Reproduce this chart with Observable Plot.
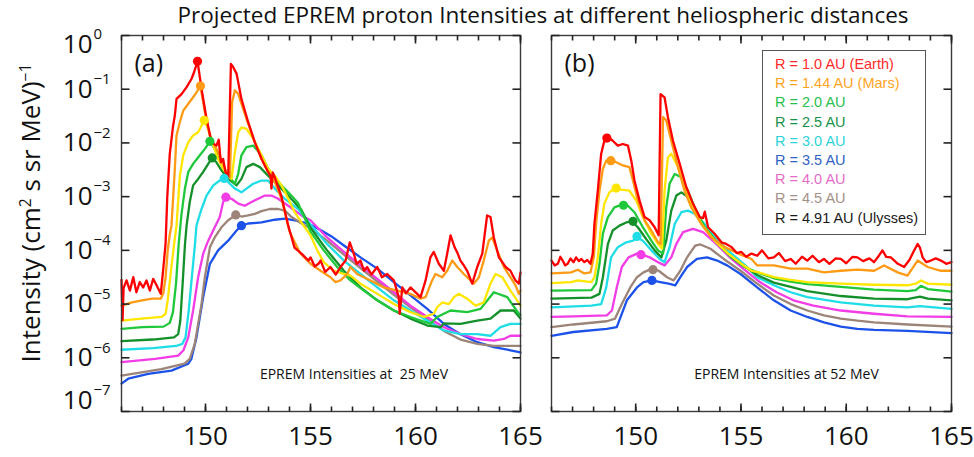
<!DOCTYPE html>
<html><head><meta charset="utf-8">
<script src="https://cdn.jsdelivr.net/npm/d3@7"></script>
<script src="https://cdn.jsdelivr.net/npm/@observablehq/plot@0.6"></script>
<style>
body{margin:0;background:#fff;}
#wrap{position:relative;width:974px;height:457px;overflow:hidden;font-family:"Open Sans",sans-serif;color:#111;}
#title{position:absolute;left:143px;width:800px;top:1px;height:28px;text-align:center;font-size:22.5px;line-height:28px;white-space:nowrap;}
#ylabel{position:absolute;left:30px;top:213px;transform:translate(-50%,-50%) rotate(-90deg);font-size:26px;white-space:nowrap;}
#ylabel sup{font-size:0.6em;vertical-align:0.6em;line-height:0;}
#pa,#pb{position:absolute;top:0;}
#pa{left:0;} #pb{left:530px;}
#legend{position:absolute;left:762px;top:50px;width:164px;height:185px;box-sizing:border-box;border:1px solid #555;background:#fff;padding:4px 0 0 12px;font-family:"Liberation Sans",Arial,sans-serif;font-size:14.5px;line-height:19.2px;white-space:nowrap;}
</style></head>
<body><div id="wrap">
<div id="title"></div>
<div id="ylabel">Intensity (cm<sup>2</sup> s sr MeV)<sup>−1</sup></div>
<div id="pa"></div><div id="pb"></div>
<div id="legend"></div>
</div>
<script>
// ---------- data (times in days, values as log10 intensity) ----------
const titleText = "Projected EPREM proton Intensities at different heliospheric distances";
const radiusLabels = ["R = 1.0 AU (Earth)","R = 1.44 AU (Mars)","R = 2.0 AU","R = 2.5 AU","R = 3.0 AU","R = 3.5 AU","R = 4.0 AU","R = 4.5 AU","R = 4.91 AU (Ulysses)"];
const lineColors = ["#ff0000","#ff9a14","#ffe600","#1fc83a","#14902a","#1fdde6","#f23ce6","#9c8478","#1c52ea"];
const legendTextColors = ["#ff2a2a","#ffa41e","#27c04e","#17924a","#2ed3da","#2f62c2","#e56cc8","#a3918a","#1a1a1a"];
const xTicksMinor = [146,147,148,149,150,151,152,153,154,155,156,157,158,159,160,161,162,163,164,165];
const xTicksMajor = [150,155,160,165];
const yDecades = [1,1e-1,1e-2,1e-3,1e-4,1e-5,1e-6,1e-7];
const panelLetters = ["(a)","(b)"];
const panelNotes = ["EPREM Intensities at  25 MeV","EPREM Intensities at 52 MeV"];

// Panel (a): 25 MeV
const A_R1_0 = [[146.0,-4.55],[146.05,-5.3],[146.1,-4.7],[146.24,-4.56],[146.40,-4.75],[146.56,-4.50],[146.71,-4.78],[146.87,-4.59],[147.03,-4.69],[147.19,-4.56],[147.35,-4.75],[147.51,-4.53],[147.67,-4.65],[147.87,-4.81],[147.99,-4.34],[148.10,-3.87],[148.18,-3.0],[148.30,-2.2],[148.45,-1.7],[148.54,-1.49],[148.62,-1.18],[148.86,-1.09],[149.10,-0.96],[149.33,-0.81],[149.46,-0.68],[149.62,-0.48],[149.81,-0.99],[150.05,-1.55],[150.29,-1.99],[150.52,-2.05],[150.63,-1.94],[150.73,-2.36],[150.84,-2.30],[150.95,-2.54],[151.08,-2.64],[151.21,-0.53],[151.32,-0.59],[151.48,-0.71],[151.71,-1.18],[152.03,-1.61],[152.35,-1.99],[152.67,-2.30],[152.98,-2.54],[153.10,-2.62],[153.14,-2.85],[153.20,-2.55],[153.30,-2.64],[153.62,-3.0],[153.94,-3.54],[154.24,-3.95],[154.57,-4.06],[154.90,-4.19],[155.0,-4.13],[155.2,-4.30],[155.38,-4.25],[155.48,-4.19],[155.7,-4.40],[155.95,-4.31],[156.2,-4.45],[156.43,-4.31],[156.67,-4.19],[156.87,-3.85],[157.06,-4.06],[157.2,-4.25],[157.38,-4.19],[157.55,-4.38],[157.70,-4.31],[157.9,-4.45],[158.18,-4.31],[158.4,-4.5],[158.65,-4.44],[158.97,-4.56],[159.20,-4.87],[159.25,-5.18],[159.37,-4.69],[159.55,-4.80],[159.76,-4.69],[160.08,-4.81],[160.24,-4.87],[160.48,-4.56],[160.71,-4.13],[160.87,-4.03],[161.11,-4.25],[161.35,-4.38],[161.51,-4.06],[161.67,-3.72],[161.86,-3.94],[162.0,-4.05],[162.14,-4.19],[162.3,-4.28],[162.46,-4.38],[162.70,-4.62],[162.94,-4.31],[163.18,-4.06],[163.41,-3.35],[163.57,-3.38],[163.73,-3.76],[163.97,-4.13],[164.1,-4.2],[164.29,-4.31],[164.52,-4.38],[164.76,-4.56],[164.92,-4.62],[165.0,-4.41]];
const A_R1_44 = [[146.0,-5.03],[146.5,-4.97],[146.98,-4.93],[147.46,-4.90],[147.87,-4.90],[147.99,-4.80],[148.1,-4.5],[148.2,-4.0],[148.3,-3.7],[148.38,-3.54],[148.54,-2.48],[148.62,-1.86],[148.78,-1.61],[148.94,-1.40],[149.18,-1.27],[149.41,-1.15],[149.57,-1.06],[149.76,-0.94],[149.97,-1.43],[150.2,-1.86],[150.52,-2.11],[150.84,-2.39],[151.05,-2.61],[151.16,-2.64],[151.27,-1.24],[151.40,-1.02],[151.56,-1.09],[151.79,-1.36],[152.03,-1.64],[152.35,-1.99],[152.67,-2.30],[152.98,-2.54],[153.30,-2.73],[153.62,-3.04],[154.0,-3.65],[154.5,-4.05],[155.0,-4.25],[155.48,-4.38],[155.95,-4.50],[156.19,-4.59],[156.43,-4.56],[156.75,-4.44],[156.90,-4.31],[157.22,-4.44],[157.86,-4.56],[158.49,-4.69],[159.13,-4.75],[159.76,-4.81],[160.24,-4.90],[160.48,-4.87],[160.79,-4.56],[160.95,-4.44],[161.27,-4.50],[161.51,-4.38],[161.75,-4.19],[161.99,-4.31],[162.30,-4.44],[162.62,-4.56],[162.78,-4.62],[163.02,-4.50],[163.25,-4.19],[163.49,-3.82],[163.65,-3.76],[163.89,-4.0],[164.21,-4.31],[164.52,-4.50],[164.76,-4.65],[164.92,-4.81],[165.0,-4.75]];
const A_R2_0 = [[146.0,-5.31],[146.95,-5.27],[147.9,-5.24],[148.1,-5.18],[148.2,-4.93],[148.35,-4.4],[148.5,-3.9],[148.62,-3.54],[148.78,-2.61],[148.94,-2.23],[149.18,-1.99],[149.41,-1.86],[149.65,-1.80],[149.81,-1.68],[149.94,-1.58],[150.13,-1.74],[150.37,-2.05],[150.60,-2.30],[150.84,-2.48],[151.08,-2.61],[151.24,-2.67],[151.40,-2.17],[151.56,-1.80],[151.71,-1.71],[151.95,-1.74],[152.27,-1.92],[152.67,-2.23],[152.98,-2.48],[153.30,-2.61],[153.62,-2.79],[153.94,-3.04],[154.25,-3.29],[154.6,-3.5],[155.0,-3.72],[155.32,-4.0],[155.63,-4.22],[156.11,-4.38],[156.59,-4.44],[156.90,-4.47],[157.38,-4.62],[158.18,-4.81],[158.97,-5.0],[159.76,-5.15],[160.40,-5.24],[160.87,-5.18],[161.03,-5.06],[161.27,-4.97],[161.59,-5.0],[161.83,-4.87],[162.06,-4.81],[162.46,-4.90],[162.86,-5.03],[163.25,-4.97],[163.57,-4.62],[163.81,-4.44],[164.13,-4.5],[164.52,-4.75],[164.84,-4.93],[165.0,-5.03]];
const A_R2_5 = [[146.0,-5.46],[147.0,-5.43],[148.0,-5.42],[148.3,-5.35],[148.45,-5.15],[148.6,-4.6],[148.72,-3.9],[148.85,-3.35],[149.02,-2.85],[149.18,-2.54],[149.41,-2.39],[149.73,-2.23],[149.97,-2.11],[150.21,-1.97],[150.44,-2.11],[150.76,-2.36],[151.08,-2.61],[151.40,-2.76],[151.56,-2.57],[151.71,-2.23],[151.95,-2.08],[152.27,-2.05],[152.67,-2.23],[152.98,-2.48],[153.46,-2.73],[153.94,-2.92],[154.41,-3.12],[155.0,-3.65],[155.63,-4.0],[156.27,-4.31],[156.90,-4.56],[157.54,-4.75],[158.18,-4.93],[158.97,-5.12],[159.76,-5.24],[160.71,-5.37],[161.03,-5.24],[161.67,-5.12],[162.46,-5.15],[163.1,-5.09],[163.73,-4.78],[164.37,-4.87],[164.92,-5.18],[165.0,-5.2]];
const A_R3_0 = [[146.0,-5.69],[147.5,-5.66],[148.5,-5.62],[148.7,-5.56],[148.8,-5.31],[148.93,-4.50],[149.02,-3.9],[149.1,-3.54],[149.25,-3.10],[149.41,-2.79],[149.65,-2.67],[149.89,-2.54],[150.13,-2.39],[150.32,-2.28],[150.52,-2.36],[150.76,-2.51],[151.08,-2.67],[151.48,-2.79],[151.71,-2.67],[151.95,-2.45],[152.27,-2.39],[152.59,-2.45],[152.98,-2.61],[153.46,-2.79],[153.94,-2.98],[154.57,-3.25],[155.0,-3.58],[155.79,-4.0],[156.59,-4.38],[157.38,-4.69],[158.18,-4.93],[158.97,-5.12],[159.76,-5.27],[160.56,-5.40],[161.19,-5.43],[161.35,-5.36],[162.14,-5.37],[162.94,-5.31],[163.57,-5.27],[164.05,-5.12],[164.68,-5.12],[165.0,-5.27]];
const A_R3_5 = [[146.0,-5.85],[147.5,-5.82],[148.6,-5.78],[148.9,-5.74],[149.05,-5.62],[149.2,-5.12],[149.35,-4.50],[149.5,-3.88],[149.57,-3.54],[149.81,-3.23],[150.05,-2.98],[150.37,-2.79],[150.68,-2.70],[150.89,-2.66],[151.16,-2.76],[151.40,-2.85],[151.71,-2.92],[151.95,-2.85],[152.27,-2.76],[152.67,-2.70],[152.98,-2.70],[153.30,-2.85],[153.78,-3.04],[154.41,-3.23],[155.0,-3.52],[155.79,-3.88],[156.59,-4.19],[157.38,-4.44],[158.18,-4.69],[158.97,-4.93],[159.76,-5.12],[160.56,-5.31],[161.35,-5.49],[162.14,-5.56],[162.94,-5.56],[163.57,-5.59],[164.05,-5.43],[164.52,-5.37],[165.0,-5.37]];
const A_R4_0 = [[146.0,-6.08],[147.6,-6.02],[148.7,-5.96],[148.95,-5.86],[149.18,-5.62],[149.41,-5.12],[149.65,-4.50],[149.89,-4.06],[150.13,-3.82],[150.44,-3.57],[150.68,-3.38],[150.84,-3.10],[150.97,-3.01],[151.24,-3.04],[151.56,-3.13],[151.87,-3.17],[152.19,-3.10],[152.51,-3.04],[152.83,-2.98],[153.14,-2.98],[153.46,-3.04],[153.94,-3.17],[154.57,-3.35],[155.0,-3.44],[155.79,-3.76],[156.59,-4.03],[157.38,-4.28],[158.18,-4.53],[158.97,-4.78],[159.76,-5.03],[160.56,-5.24],[161.35,-5.43],[162.14,-5.56],[162.94,-5.65],[163.73,-5.68],[164.21,-5.65],[164.52,-5.59],[165.0,-5.59]];
const A_R4_5 = [[146.0,-6.33],[146.95,-6.27],[147.9,-6.21],[149.0,-6.11],[149.25,-6.02],[149.49,-5.74],[149.81,-5.0],[149.97,-4.50],[150.21,-3.94],[150.44,-3.76],[150.76,-3.57],[151.08,-3.44],[151.44,-3.34],[151.71,-3.37],[152.03,-3.35],[152.35,-3.32],[152.67,-3.27],[153.06,-3.23],[153.46,-3.23],[153.78,-3.26],[154.10,-3.38],[154.57,-3.50],[155.05,-3.60],[155.79,-3.82],[156.59,-4.08],[157.38,-4.33],[158.18,-4.58],[158.97,-4.83],[159.76,-5.06],[160.56,-5.28],[161.35,-5.50],[162.14,-5.66],[162.94,-5.74],[163.73,-5.78],[164.52,-5.78],[165.0,-5.78]];
const A_R4_91 = [[146.0,-6.48],[146.32,-6.39],[147.27,-6.30],[148.38,-6.24],[149.18,-6.11],[149.33,-6.02],[149.57,-5.62],[149.89,-4.87],[150.21,-4.25],[150.60,-4.0],[151.08,-3.82],[151.48,-3.63],[151.71,-3.54],[152.03,-3.50],[152.67,-3.48],[153.30,-3.43],[153.78,-3.41],[154.25,-3.44],[154.89,-3.50],[155.52,-3.63],[156.0,-3.74],[156.59,-3.91],[157.38,-4.13],[158.18,-4.34],[158.97,-4.59],[159.76,-4.84],[160.56,-5.09],[161.35,-5.37],[162.14,-5.56],[162.94,-5.71],[163.73,-5.80],[164.52,-5.86],[165.0,-5.90]];
const A_peakTimes = [149.62,149.76,149.94,150.21,150.32,150.89,150.97,151.44,151.71];
const A_peakValues = [-0.48,-0.94,-1.58,-1.97,-2.28,-2.66,-3.01,-3.34,-3.54];

// Panel (b): 52 MeV
const B_R1_0 = [[146.0,-4.19],[146.15,-4.28],[146.30,-4.25],[146.42,-4.12],[146.53,-4.19],[146.65,-4.28],[146.77,-4.25],[146.9,-4.15],[147.05,-4.22],[147.17,-4.13],[147.3,-4.2],[147.42,-4.16],[147.56,-4.22],[147.7,-4.18],[147.85,-4.25],[147.96,-4.06],[148.04,-3.50],[148.20,-2.89],[148.36,-2.20],[148.51,-1.96],[148.68,-1.89],[148.91,-1.96],[149.15,-2.05],[149.39,-2.02],[149.63,-2.05],[149.79,-2.33],[149.94,-2.70],[150.18,-3.07],[150.42,-3.38],[150.66,-3.44],[150.90,-3.57],[151.09,-3.72],[151.18,-1.09],[151.37,-1.15],[151.53,-1.52],[151.77,-1.96],[152.09,-2.39],[152.40,-2.82],[152.72,-3.13],[153.04,-3.38],[153.20,-3.40],[153.28,-3.28],[153.44,-3.57],[153.75,-3.69],[154.07,-3.85],[154.3,-3.88],[154.55,-3.94],[154.8,-4.05],[155.02,-4.03],[155.25,-4.12],[155.50,-4.06],[155.77,-4.10],[156.0,-4.0],[156.3,-4.15],[156.56,-4.13],[156.8,-4.05],[157.1,-4.2],[157.36,-4.16],[157.6,-4.25],[157.9,-4.12],[158.15,-4.19],[158.4,-4.1],[158.7,-4.22],[158.94,-4.16],[159.2,-4.25],[159.5,-4.15],[159.74,-4.16],[160.0,-4.24],[160.3,-4.12],[160.53,-4.13],[160.8,-4.2],[161.1,-4.15],[161.32,-4.22],[161.55,-4.1],[161.72,-4.0],[161.9,-4.12],[162.12,-4.13],[162.45,-4.25],[162.75,-4.31],[163.0,-4.18],[163.23,-4.0],[163.39,-3.88],[163.5,-3.95],[163.63,-4.13],[163.8,-4.22],[164.02,-4.19],[164.25,-4.15],[164.50,-4.19],[164.75,-4.25],[165.0,-4.22]];
const B_R1_44 = [[146.0,-4.43],[146.5,-4.42],[146.93,-4.41],[147.25,-4.36],[147.56,-4.43],[147.85,-4.41],[148.01,-4.13],[148.12,-3.50],[148.28,-2.89],[148.44,-2.48],[148.60,-2.33],[148.80,-2.31],[149.07,-2.36],[149.39,-2.42],[149.70,-2.45],[149.87,-2.70],[150.10,-3.07],[150.42,-3.44],[150.74,-3.63],[151.06,-3.85],[151.18,-3.88],[151.30,-1.52],[151.45,-1.58],[151.69,-1.96],[152.01,-2.45],[152.32,-2.89],[152.64,-3.20],[153.12,-3.51],[153.60,-3.76],[154.23,-3.94],[154.87,-4.06],[155.50,-4.16],[155.77,-4.28],[156.56,-4.28],[157.36,-4.34],[158.15,-4.34],[158.94,-4.41],[159.74,-4.38],[160.53,-4.36],[161.32,-4.38],[161.80,-4.28],[162.44,-4.41],[162.91,-4.47],[163.39,-4.19],[163.87,-4.31],[164.50,-4.38],[165.0,-4.38]];
const B_R2_0 = [[146.0,-4.61],[146.93,-4.59],[147.25,-4.56],[147.9,-4.59],[148.04,-4.50],[148.20,-4.13],[148.36,-3.50],[148.51,-3.13],[148.75,-2.92],[149.03,-2.84],[149.30,-2.87],[149.70,-2.89],[150.02,-3.07],[150.34,-3.38],[150.74,-3.69],[151.06,-3.88],[151.25,-3.97],[151.37,-2.89],[151.53,-2.27],[151.69,-2.20],[152.01,-2.45],[152.32,-2.82],[152.64,-3.13],[153.12,-3.51],[153.75,-3.82],[154.39,-4.06],[155.02,-4.25],[155.50,-4.38],[155.77,-4.40],[156.56,-4.50],[157.36,-4.55],[158.15,-4.59],[159.74,-4.62],[161.32,-4.64],[162.91,-4.65],[163.3,-4.62],[163.55,-4.56],[163.87,-4.62],[165.0,-4.64]];
const B_R2_5 = [[146.0,-4.75],[147.9,-4.74],[148.12,-4.62],[148.28,-4.25],[148.44,-3.69],[148.68,-3.38],[148.99,-3.20],[149.34,-3.15],[149.63,-3.17],[149.94,-3.29],[150.34,-3.57],[150.74,-3.82],[151.06,-4.0],[151.30,-4.06],[151.45,-3.20],[151.61,-2.76],[151.85,-2.58],[152.17,-2.64],[152.48,-2.89],[152.80,-3.20],[153.28,-3.57],[153.91,-3.88],[154.55,-4.13],[155.18,-4.31],[155.77,-4.41],[156.56,-4.52],[157.36,-4.58],[158.15,-4.63],[159.74,-4.68],[161.32,-4.73],[162.91,-4.76],[163.3,-4.74],[163.55,-4.66],[163.87,-4.72],[165.0,-4.77]];
const B_R3_0 = [[146.0,-4.90],[147.9,-4.88],[148.28,-4.81],[148.44,-4.50],[148.68,-3.88],[148.91,-3.63],[149.23,-3.54],[149.55,-3.48],[149.82,-3.46],[150.10,-3.57],[150.50,-3.79],[150.90,-4.0],[151.22,-4.13],[151.45,-3.82],[151.69,-3.26],[151.93,-2.98],[152.17,-2.92],[152.48,-3.01],[152.80,-3.26],[153.28,-3.57],[153.91,-3.88],[154.55,-4.13],[155.18,-4.30],[155.77,-4.46],[156.56,-4.60],[157.36,-4.68],[158.15,-4.76],[159.74,-4.85],[161.32,-4.90],[162.91,-4.91],[163.5,-4.86],[163.87,-4.90],[165.0,-4.93]];
const B_R3_5 = [[146.0,-5.06],[147.9,-5.03],[148.36,-5.0],[148.6,-4.69],[148.83,-4.13],[149.15,-3.94],[149.55,-3.85],[149.87,-3.82],[150.07,-3.76],[150.34,-3.82],[150.74,-4.0],[151.14,-4.16],[151.37,-4.22],[151.61,-3.94],[151.85,-3.51],[152.17,-3.29],[152.48,-3.26],[152.80,-3.32],[153.28,-3.51],[153.91,-3.82],[154.55,-4.06],[155.18,-4.27],[155.77,-4.50],[156.56,-4.65],[157.36,-4.78],[158.15,-4.87],[159.74,-4.97],[161.32,-5.03],[162.91,-5.06],[163.5,-5.04],[165.0,-5.09]];
const B_R4_0 = [[146.0,-5.24],[147.04,-5.23],[148.63,-5.21],[148.87,-5.12],[149.10,-4.69],[149.34,-4.31],[149.66,-4.13],[150.06,-4.06],[150.25,-4.07],[150.66,-4.13],[151.06,-4.22],[151.37,-4.28],[151.69,-4.13],[151.93,-3.88],[152.25,-3.66],[152.72,-3.60],[153.20,-3.66],[153.83,-3.88],[154.47,-4.13],[155.10,-4.34],[155.90,-4.59],[156.69,-4.78],[157.49,-4.93],[158.44,-5.03],[159.74,-5.12],[161.32,-5.18],[162.91,-5.23],[165.0,-5.24]];
const B_R4_5 = [[146.0,-5.43],[147.04,-5.38],[148.63,-5.32],[149.02,-5.27],[149.34,-5.0],[149.74,-4.69],[150.06,-4.50],[150.37,-4.41],[150.77,-4.34],[151.09,-4.38],[151.49,-4.50],[151.80,-4.56],[152.12,-4.38],[152.44,-4.13],[152.83,-3.91],[153.07,-3.89],[153.55,-3.97],[154.18,-4.16],[154.98,-4.38],[155.77,-4.62],[156.56,-4.84],[157.36,-5.0],[158.15,-5.12],[158.94,-5.21],[159.74,-5.27],[160.53,-5.31],[161.32,-5.34],[162.91,-5.38],[165.0,-5.42]];
const B_R4_91 = [[146.0,-5.59],[147.04,-5.52],[148.63,-5.46],[149.10,-5.43],[149.58,-4.93],[150.06,-4.69],[150.37,-4.59],[150.77,-4.56],[151.17,-4.59],[151.56,-4.62],[151.88,-4.65],[152.12,-4.50],[152.44,-4.31],[152.91,-4.16],[153.39,-4.13],[153.87,-4.19],[154.34,-4.28],[154.98,-4.44],[155.77,-4.69],[156.56,-4.93],[157.36,-5.12],[158.15,-5.24],[158.94,-5.34],[159.74,-5.42],[160.53,-5.46],[161.32,-5.48],[162.91,-5.50],[165.0,-5.54]];
const B_peakTimes = [148.63,148.82,149.07,149.42,149.87,150.06,150.25,150.82,150.77];
const B_peakValues = [-1.91,-2.33,-2.84,-3.16,-3.46,-3.74,-4.08,-4.36,-4.56];

// ---------- build ----------
document.getElementById("title").textContent = titleText;
const legend = document.getElementById("legend");
radiusLabels.forEach((r, i) => {
  const d = document.createElement("div");
  d.textContent = r; d.style.color = legendTextColors[i];
  legend.appendChild(d);
});

const seriesA = [A_R1_0, A_R1_44, A_R2_0, A_R2_5, A_R3_0, A_R3_5, A_R4_0, A_R4_5, A_R4_91];
const seriesB = [B_R1_0, B_R1_44, B_R2_0, B_R2_5, B_R3_0, B_R3_5, B_R4_0, B_R4_5, B_R4_91];

function toRows(series) {
  // outermost radius first so that 1.0 AU is drawn on top
  return radiusLabels.map((r, i) => series[i].map(([t, lv]) => ({r, t, v: Math.pow(10, lv)}))).reverse().flat();
}
function toPeaks(times, vals) {
  return radiusLabels.map((r, i) => ({r, t: times[i], v: Math.pow(10, vals[i])})).reverse();
}
const expText = d => { const e = Math.round(Math.log10(d)); return e === 0 ? "0" : "\u2212" + Math.abs(e); };

const H = 457, MT = 35, MB = 46;
const X0 = 146, X1 = 165, Y0 = 1e-7, Y1 = 1;
const frameH = H - MT - MB;
const tickStyle = {stroke: "#222", strokeWidth: 1.6};

function panel({rows, peaks, letter, note, width, marginLeft, marginRight, yLabels, noteDx}) {
  const frameW = width - marginLeft - marginRight;
  // tick lengths given in pixels, converted to scale units so ticks point inward from each edge
  const xPerPx = (X1 - X0) / frameW;
  const decadesPerPx = Math.log10(Y1 / Y0) / frameH;
  const ticksX = (ticks, len) => {
    const f = Math.pow(10, len * decadesPerPx);
    return [
      Plot.link(ticks, {x1: d => d, x2: d => d, y1: () => Y0, y2: () => Y0 * f, ...tickStyle}),
      Plot.link(ticks, {x1: d => d, x2: d => d, y1: () => Y1, y2: () => Y1 / f, ...tickStyle})
    ];
  };
  const ticksY = (ticks, len) => [
    Plot.link(ticks, {y1: d => d, y2: d => d, x1: () => X0, x2: () => X0 + len * xPerPx, ...tickStyle}),
    Plot.link(ticks, {y1: d => d, y2: d => d, x1: () => X1, x2: () => X1 - len * xPerPx, ...tickStyle})
  ];
  const marks = [
    Plot.line(rows, {x: "t", y: "v", z: "r", stroke: "r", strokeWidth: 2.3, strokeLinejoin: "round"}),
    Plot.dot(peaks, {x: "t", y: "v", fill: "r", r: 4.6}),
    Plot.frame({stroke: "#3a3a3a", strokeWidth: 1.4}),
    Plot.axisX({anchor: "bottom", ticks: xTicksMajor, tickSize: 0, tickPadding: 15, fontSize: 26, fill: "#111"}),
    Plot.text([letter], {frameAnchor: "top-left", dx: 13, dy: 28, fontSize: 25, textAnchor: "start", lineAnchor: "middle", fill: "#111"}),
    Plot.text([note], {frameAnchor: "bottom", dx: noteDx, dy: -37, fontSize: 14, lineAnchor: "middle", fill: "#111"}),
    ...ticksX(xTicksMinor, 5),
    ...ticksX(xTicksMajor, 8),
    ...ticksY(yDecades, 8)
  ];
  if (yLabels) {
    const mid = yDecades.slice(1, -1), top = [yDecades[0]], bot = [yDecades[yDecades.length - 1]];
    for (const [set, off] of [[mid, 0], [top, 9], [bot, -11]]) {
      marks.push(Plot.text(set, {y: d => d, text: () => "10", frameAnchor: "left", textAnchor: "end", dx: -29, dy: off, fontSize: 26, lineAnchor: "middle", fill: "#111"}));
      marks.push(Plot.text(set, {y: d => d, text: expText, frameAnchor: "left", textAnchor: "start", dx: -28, dy: off - 10, fontSize: 15, lineAnchor: "middle", fill: "#111"}));
    }
  }
  return Plot.plot({
    width, height: H, marginTop: MT, marginBottom: MB, marginLeft, marginRight,
    style: {fontFamily: '"Open Sans", sans-serif', background: "transparent", overflow: "visible"},
    x: {domain: [X0, X1], label: null},
    y: {type: "log", domain: [Y0, Y1], label: null, axis: null},
    color: {domain: radiusLabels, range: lineColors},
    marks
  });
}

document.getElementById("pa").appendChild(panel({
  rows: toRows(seriesA), peaks: toPeaks(A_peakTimes, A_peakValues), letter: panelLetters[0], note: panelNotes[0],
  width: 530, marginLeft: 121, marginRight: 10, yLabels: true, noteDx: 33
}));
document.getElementById("pb").appendChild(panel({
  rows: toRows(seriesB), peaks: toPeaks(B_peakTimes, B_peakValues), letter: panelLetters[1], note: panelNotes[1],
  width: 444, marginLeft: 21, marginRight: 23, yLabels: false, noteDx: 35
}));
</script>
</body></html>
